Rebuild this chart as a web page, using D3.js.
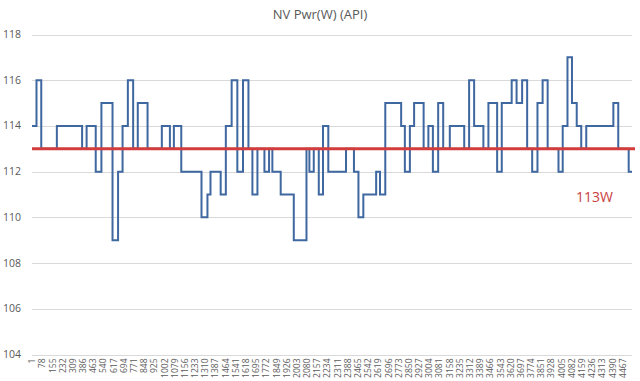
<html>
<head>
  <title>NV Pwr(W) (API)</title>
  <script src="https://d3js.org/d3.v7.min.js"></script>
  <style>
    html, body { margin:0; padding:0; background:#fff; overflow:hidden }
    text { font-family: "Open Sans", sans-serif; }
  </style>
</head>
<body>
  <div class="chart"></div>
  <script>

    var W = 640, H = 381;
    var margin = {top: 34.5, right: 8, bottom: 26.5, left: 32};

    // step series: sample index where each level starts, and the level (W)
    var stepStart = [1, 35, 71, 189, 380, 414, 483, 526, 610, 652, 686, 726, 766, 801, 875, 983,
      1044, 1074, 1130, 1283, 1328, 1351, 1428, 1467, 1511, 1554, 1597, 1638, 1668, 1706, 1759,
      1794, 1819, 1882, 1981, 2077, 2099, 2132, 2170, 2202, 2242, 2376, 2436, 2470, 2507, 2604,
      2633, 2673, 2793, 2821, 2859, 2891, 2963, 2999, 3033, 3073, 3111, 3161, 3270, 3307, 3345,
      3415, 3453, 3519, 3554, 3629, 3666, 3708, 3746, 3784, 3824, 3863, 3901, 3983, 4015, 4051,
      4085, 4121, 4155, 4193, 4398, 4435, 4514];
    var stepValue = [114, 116, 113, 114, 113, 114, 112, 115, 109, 112, 114, 116, 113, 115, 113, 114,
      113, 114, 112, 110, 111, 112, 111, 114, 116, 112, 116, 113, 111, 113, 112,
      113, 112, 111, 109, 113, 112, 113, 111, 114, 112, 113, 112, 110, 111, 112,
      111, 115, 114, 112, 114, 115, 113, 114, 112, 115, 113, 114, 113, 116, 114,
      113, 115, 112, 115, 116, 115, 116, 113, 112, 115, 116, 113, 112, 114, 117,
      115, 114, 113, 114, 115, 113, 112];
    var lastIndex = 4539;

    var refValue = 113;
    var refLabel = "113W";

    var yTicks = [104, 106, 108, 110, 112, 114, 116, 118];
    var xTicks = d3.range(1, 4468, 77);

    var svg = d3.select("div.chart").append("svg")
      .attr("width", W)
      .attr("height", H);

    var x = d3.scaleLinear()
      .domain([1, lastIndex])
      .range([margin.left, W - margin.right]);

    var y = d3.scaleLinear()
      .domain([104, 118])
      .range([H - margin.bottom, margin.top]);

    // gridlines
    svg.append("g")
      .selectAll("line")
      .data(yTicks)
      .enter().append("line")
      .attr("x1", margin.left)
      .attr("x2", W - margin.right)
      .attr("y1", function(d) { return Math.round(y(d)) + 0.5; })
      .attr("y2", function(d) { return Math.round(y(d)) + 0.5; })
      .attr("stroke", "#d9d9d9")
      .attr("stroke-width", 1);

    // y labels
    svg.append("g")
      .selectAll("text")
      .data(yTicks)
      .enter().append("text")
      .attr("x", 21)
      .attr("y", function(d) { return y(d) + 3.5; })
      .attr("text-anchor", "end")
      .attr("font-size", "10.5px")
      .attr("fill", "#595959")
      .text(function(d) { return d; });

    // x axis labels (rotated)
    var xAxis = d3.axisBottom(x)
      .tickValues(xTicks)
      .tickFormat(d3.format("d"))
      .tickSize(0)
      .tickPadding(0);

    var gx = svg.append("g")
      .attr("transform", "translate(0," + (H - margin.bottom) + ")")
      .call(xAxis);
    gx.select(".domain").remove();
    gx.selectAll("text")
      .attr("transform", "rotate(-90)")
      .attr("x", -4)
      .attr("y", 0)
      .attr("dy", "0.32em")
      .attr("text-anchor", "end")
      .attr("font-size", "8.5px")
      .attr("font-family", "\"Open Sans\", sans-serif")
      .attr("fill", "#595959");

    // series
    var pts = stepStart.map(function(s, i) { return [s, stepValue[i]]; });
    pts.push([lastIndex, stepValue[stepValue.length - 1]]);

    var line = d3.line()
      .x(function(d) { return x(d[0]); })
      .y(function(d) { return y(d[1]); })
      .curve(d3.curveStepAfter);

    svg.append("path")
      .datum(pts)
      .attr("d", line)
      .attr("fill", "none")
      .attr("stroke", "#3f67a0")
      .attr("stroke-width", 2);

    // reference line
    svg.append("line")
      .attr("x1", margin.left)
      .attr("x2", 635)
      .attr("y1", y(refValue))
      .attr("y2", y(refValue))
      .attr("stroke", "#d23c3c")
      .attr("stroke-width", 3);

    svg.append("text")
      .attr("x", 576)
      .attr("y", 202)
      .attr("font-size", "14px")
      .attr("fill", "#c9403f")
      .text(refLabel);

    // title
    svg.append("text")
      .attr("x", 320)
      .attr("y", 19)
      .attr("text-anchor", "middle")
      .attr("font-size", "13px")
      .attr("fill", "#595959")
      .text("NV Pwr(W) (API)");

  </script>
</body>
</html>
